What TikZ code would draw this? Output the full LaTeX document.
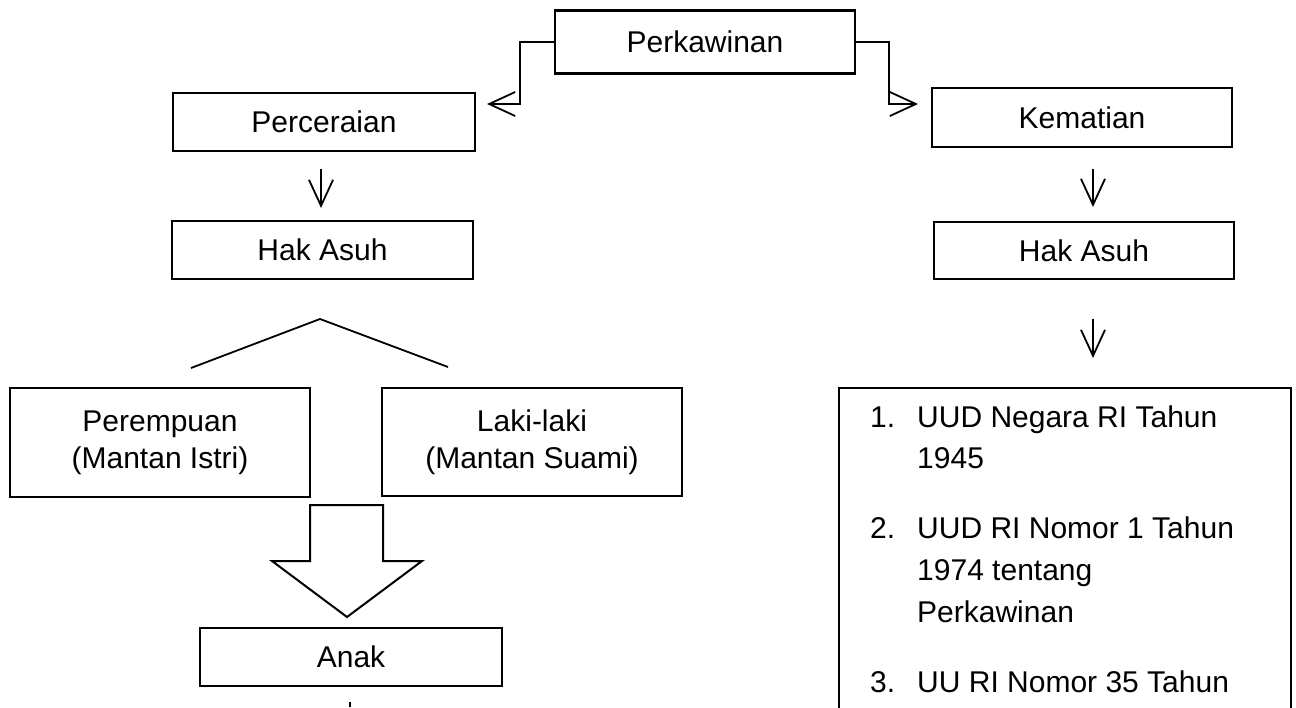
\documentclass[tikz,border=0pt]{standalone}
\usepackage{fontspec}
\setmainfont{Liberation Sans}
\usetikzlibrary{arrows.meta}
\begin{document}
\begin{tikzpicture}[x=1pt,y=-1pt,
  box/.style={draw, line width=2.4pt, inner sep=0pt, align=center, font=\fontsize{30}{37}\selectfont},
  conn/.style={line width=1.8pt},
  arr/.style={line width=1.8pt, -{Straight Barb[length=26pt,width=24pt,line width=1.8pt]}},
  txt/.style={anchor=base west, inner sep=0pt, font=\fontsize{30}{37}\selectfont}]
\useasboundingbox (0,0) rectangle (1296,707);
\clip (0,0) rectangle (1296,707);
% boxes
\node[box, minimum width=300pt, minimum height=63pt] (pk) at (705,42) {Perkawinan};
\node[box, minimum width=302pt, minimum height=58pt] (perc) at (324,122) {Perceraian};
\node[box, minimum width=300pt, minimum height=59pt] (kem) at (1082,117.5) {Kematian};
\node[box, minimum width=301pt, minimum height=58pt] (hal) at (322.5,250) {Hak Asuh};
\node[box, minimum width=300pt, minimum height=57pt] (har) at (1084,250.5) {Hak Asuh};
\node[box, minimum width=300pt, minimum height=109pt] (per) at (160,442.5) {Perempuan\\(Mantan Istri)};
\node[box, minimum width=300pt, minimum height=108pt] (lak) at (532,442) {Laki-laki\\(Mantan Suami)};
\node[box, minimum width=302pt, minimum height=58pt] (anak) at (351,657) {Anak};
\node[draw, line width=2.4pt, inner sep=0pt, minimum width=452pt, minimum height=360pt, anchor=north west] (list) at (838,387) {};
% list text
\node[txt] (n1) at (870,427) {1.};
\node[txt] (t1a) at (917,427) {UUD Negara RI Tahun};
\node[txt] (t1b) at (917,468) {1945};
\node[txt] (n2) at (870,538) {2.};
\node[txt] (t2a) at (917,538) {UUD RI Nomor 1 Tahun};
\node[txt] (t2b) at (917,580) {1974 tentang};
\node[txt] (t2c) at (917,622) {Perkawinan};
\node[txt] (n3) at (870,692) {3.};
\node[txt] (t3a) at (917,692) {UU RI Nomor 35 Tahun};
% connectors from Perkawinan
\coordinate (tipL) at (487,104);
\coordinate (tipR) at (918,104);
\draw[arr] (pk.west) -- ++(-34,0) |- (tipL);
\draw[arr] (pk.east) -- ++(33,0) |- (tipR);
% down arrows
\coordinate (a1s) at (321,169);
\coordinate (a1e) at (321,208);
\draw[arr] (a1s) -- (a1e);
\coordinate (a2s) at (1093,169);
\coordinate (a2e) at (1093,207);
\draw[arr] (a2s) -- (a2e);
\coordinate (a3s) at (1093,319);
\coordinate (a3e) at (1093,358);
\draw[arr] (a3s) -- (a3e);
% roof
\coordinate (rl) at (191,368);
\coordinate (rp) at (320,319);
\coordinate (rr) at (448,367);
\draw[conn] (rl) -- (rp) -- (rr);
% block arrow
\draw[line width=2pt, line join=miter] (310,505) -- (383,505) -- (383,561) -- (422,561) -- (347,617) -- (272,561) -- (310,561) -- cycle;
% small mark
\draw[line width=2pt] (350,702) -- (350,707);
\end{tikzpicture}
\end{document}
